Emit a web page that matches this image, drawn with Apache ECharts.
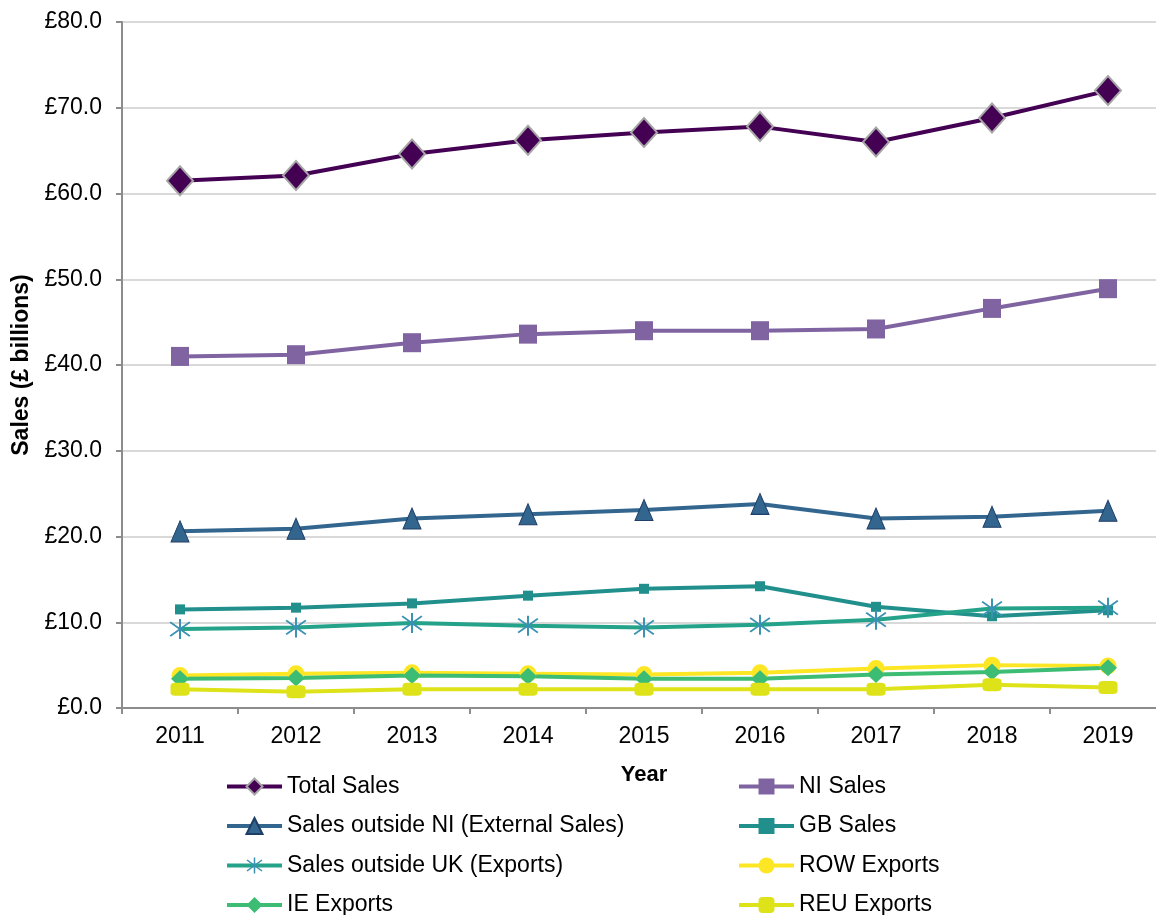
<!DOCTYPE html>
<html>
<head>
<meta charset="utf-8">
<script src="https://cdn.jsdelivr.net/npm/echarts@6/dist/echarts.min.js"></script>
<style>
  html, body { margin: 0; padding: 0; background: #fff; }
  #chart { width: 1156px; height: 915px; }
</style>
</head>
<body>
<div id="chart"></div>
<script>
// Sales figures, £ billions
const years = ['2011', '2012', '2013', '2014', '2015', '2016', '2017', '2018', '2019'];
const totalSales    = [61.5, 62.1, 64.6, 66.2, 67.1, 67.8, 66.0, 68.8, 72.0];
const niSales       = [41.0, 41.2, 42.6, 43.6, 44.0, 44.0, 44.2, 46.6, 48.9];
const externalSales = [20.6, 20.9, 22.1, 22.6, 23.1, 23.8, 22.1, 22.3, 23.0];
const gbSales       = [11.5, 11.7, 12.2, 13.1, 13.9, 14.2, 11.8, 10.7, 11.4];
const ukExports     = [9.2, 9.4, 9.9, 9.6, 9.4, 9.7, 10.3, 11.6, 11.7];
const rowExports    = [3.8, 4.0, 4.1, 4.0, 3.9, 4.1, 4.6, 5.0, 4.9];
const ieExports     = [3.4, 3.5, 3.8, 3.7, 3.4, 3.4, 3.9, 4.2, 4.7];
const reuExports    = [2.2, 1.9, 2.2, 2.2, 2.2, 2.2, 2.2, 2.7, 2.4];

const yTicks = { min: 0, max: 80, interval: 10 };

const FONT = "'Liberation Sans', Arial, sans-serif";

// six-armed asterisk marker built from three bars
const asterisk = 'path://M9.2,0 L10.8,0 L10.8,20 L9.2,20 Z ' +
  'M2.53,2.40 L18.53,16.40 L17.47,17.60 L1.47,3.60 Z ' +
  'M17.47,2.40 L18.53,3.60 L2.53,17.60 L1.47,16.40 Z';

function lineSeries(name, data, color, symbol, size, extra) {
  return Object.assign({
    name: name,
    type: 'line',
    data: data,
    symbol: symbol,
    symbolSize: size,
    showSymbol: true,
    lineStyle: { color: color, width: 4 },
    itemStyle: { color: color },
    emphasis: { disabled: true },
    animation: false
  }, extra || {});
}

const series = [
  lineSeries('Total Sales', totalSales, '#440154', 'diamond', [26, 29],
    { itemStyle: { color: '#440154', borderColor: '#a6a6a6', borderWidth: 2 } }),
  lineSeries('NI Sales', niSales, '#8064a2', 'rect', [18, 19]),
  lineSeries('Sales outside NI (External Sales)', externalSales, '#33668f', 'triangle', [18, 21],
    { itemStyle: { color: '#33668f', borderColor: '#1f3d66', borderWidth: 1 } }),
  lineSeries('GB Sales', gbSales, '#21908d', 'rect', [10, 10]),
  lineSeries('Sales outside UK (Exports)', ukExports, '#25a28a', asterisk, [21, 20],
    { itemStyle: { color: '#3a92b2' } }),
  lineSeries('ROW Exports', rowExports, '#fde725', 'circle', 17),
  lineSeries('IE Exports', ieExports, '#3dbc74', 'diamond', [18, 17]),
  lineSeries('REU Exports', reuExports, '#dde318', 'roundRect', [19, 13])
];

const legendCommon = {
  orient: 'vertical',
  padding: 0,
  height: 200,
  itemWidth: 55,
  itemHeight: 20,
  itemGap: 16.5,
  lineStyle: { width: 4 },
  textStyle: { fontFamily: FONT, fontSize: 23, color: '#000' },
  selectedMode: false
};

const chart = echarts.init(document.getElementById('chart'), null, { renderer: 'canvas' });
chart.setOption({
  backgroundColor: '#fff',
  animation: false,
  grid: {
    left: 122, top: 22, width: 1044, height: 686,
    containLabel: false, outerBoundsMode: 'none'
  },
  legend: [
    Object.assign({}, legendCommon, {
      left: 225, top: 775,
      data: ['Total Sales', 'Sales outside NI (External Sales)', 'Sales outside UK (Exports)', 'IE Exports']
    }),
    Object.assign({}, legendCommon, {
      left: 737, top: 775,
      data: ['NI Sales', 'GB Sales', 'ROW Exports', 'REU Exports']
    })
  ],
  xAxis: {
    type: 'category',
    data: years,
    boundaryGap: true,
    name: 'Year',
    nameLocation: 'middle',
    nameGap: 56,
    nameTextStyle: { fontFamily: FONT, fontSize: 22, fontWeight: 'bold', color: '#000' },
    axisLine: { lineStyle: { color: '#8c8c8c', width: 2 } },
    axisTick: { show: true, length: 6, lineStyle: { color: '#8c8c8c', width: 2 } },
    axisLabel: { fontFamily: FONT, fontSize: 23, color: '#000', margin: 17 },
    splitLine: { show: false }
  },
  yAxis: {
    type: 'value',
    min: yTicks.min,
    max: yTicks.max,
    interval: yTicks.interval,
    name: 'Sales (£ billions)',
    nameLocation: 'middle',
    nameGap: 86,
    nameTextStyle: { fontFamily: FONT, fontSize: 23, fontWeight: 'bold', color: '#000' },
    axisLine: { show: true, lineStyle: { color: '#8c8c8c', width: 2 } },
    axisTick: { show: true, length: 6, lineStyle: { color: '#8c8c8c', width: 2 } },
    axisLabel: {
      fontFamily: FONT, fontSize: 23, color: '#000', margin: 20,
      formatter: v => '£' + v.toFixed(1)
    },
    splitLine: { show: true, lineStyle: { color: '#d9d9d9', width: 2 } }
  },
  series: series
});
</script>
</body>
</html>
